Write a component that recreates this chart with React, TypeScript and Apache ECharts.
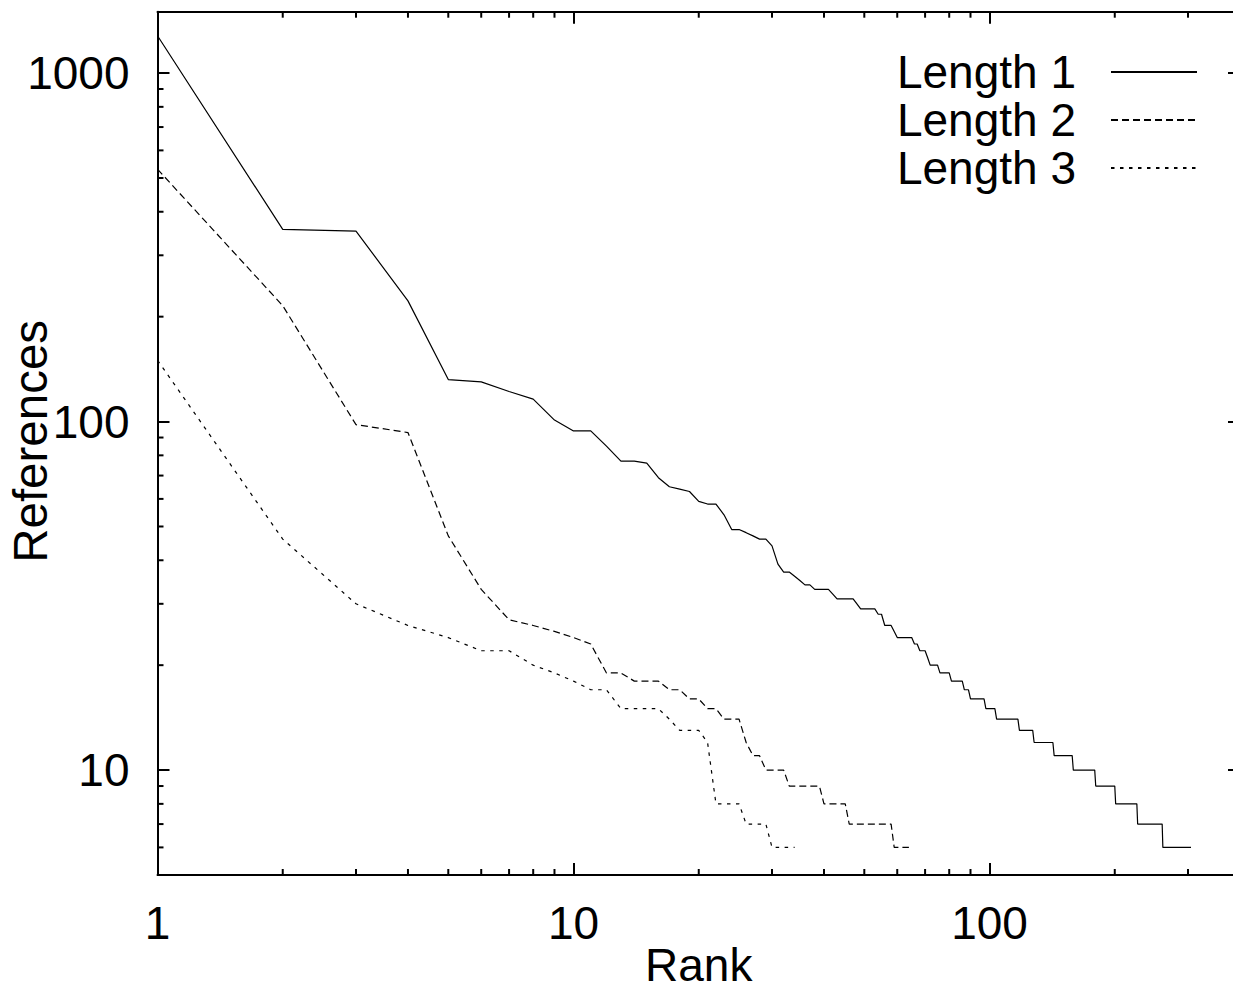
import React, { useEffect, useRef } from 'react';
import * as echarts from 'echarts';

const X_MIN = 1;
const X_MAX = 400;
const Y_MIN = 5;
const Y_MAX = 1500;

const xTickLabels = ['1', '10', '100'];
const yTickLabels = ['10', '100', '1000'];
const xMinorTicks = [2, 3, 4, 5, 6, 7, 8, 9, 20, 30, 40, 50, 60, 70, 80, 90, 200, 300];
const yMinorTicks = [6, 7, 8, 9, 20, 30, 40, 50, 60, 70, 80, 90, 200, 300, 400, 500, 600, 700, 800, 900];

const seriesNames = ['Length 1', 'Length 2', 'Length 3'];

const length1: [number, number][] = [
  [1, 1280], [2, 356], [3, 352], [4, 222], [5, 132], [6, 130], [7, 122], [8, 116], [9, 101], [10, 94],
  [11, 94], [12, 85], [13, 77], [14, 77], [15, 76], [16, 69], [17, 65], [18, 64], [19, 63], [20, 59],
  [21, 58], [22, 58], [23, 54], [24, 49], [25, 49], [26, 48], [27, 47], [28, 46], [29, 46], [30, 44],
  [31, 39], [32, 37], [33, 37], [34, 36], [35, 35], [36, 34], [37, 34], [38, 33], [41, 33], [42, 32],
  [43, 31], [47, 31], [48, 30], [49, 29], [53, 29], [54, 28], [55, 28], [56, 26], [58, 26], [59, 25],
  [60, 24], [65, 24], [66, 23], [67, 23], [68, 22], [70, 22], [71, 21], [72, 20], [75, 20], [76, 19],
  [80, 19], [81, 18], [86, 18], [87, 17], [89, 17], [90, 16], [97, 16], [98, 15], [103, 15], [104, 14],
  [117, 14], [118, 13], [127, 13], [128, 12], [142, 12], [143, 11], [158, 11], [159, 10], [179, 10], [180, 9],
  [200, 9], [201, 8], [226, 8], [227, 7], [260, 7], [261, 6], [305, 6],
];

const length2: [number, number][] = [
  [1, 530], [2, 215], [3, 98], [4, 93], [5, 47], [6, 33], [7, 27], [8, 26], [9, 25], [10, 24],
  [11, 23], [12, 19], [13, 19], [14, 18], [16, 18], [17, 17], [18, 17], [19, 16], [20, 16], [21, 15],
  [22, 15], [23, 14], [25, 14], [26, 12], [27, 11], [28, 11], [29, 10], [32, 10], [33, 9], [39, 9],
  [40, 8], [45, 8], [46, 7], [58, 7], [59, 6], [64, 6],
];

const length3: [number, number][] = [
  [1, 150], [2, 46], [3, 30], [4, 26], [5, 24], [6, 22], [7, 22], [8, 20], [9, 19], [10, 18],
  [11, 17], [12, 17], [13, 15], [16, 15], [17, 14], [18, 13], [20, 13], [21, 12], [22, 8], [25, 8],
  [26, 7], [29, 7], [30, 6], [34, 6],
];

const FONT = '"Liberation Sans", Arial, Helvetica, sans-serif';

function makeFormatter(labels: string[]) {
  return (v: number) => {
    const r = Math.round(v);
    const s = String(r);
    return labels.includes(s) && Math.abs(v - r) / Math.max(1, Math.abs(v)) < 1e-6 ? s : '';
  };
}

const axisLineStyle = { color: '#000', width: 2 };

function buildOption(): any {
  const baseAxis = {
    type: 'log',
    logBase: 10,
    axisLine: { show: true, onZero: false, lineStyle: axisLineStyle },
    axisTick: { show: true, inside: true, length: 12, lineStyle: axisLineStyle },
    splitLine: { show: false },
    minorTick: { show: false },
    minorSplitLine: { show: false },
  };
  const labelStyle = { fontSize: 46, fontFamily: FONT, color: '#000' };

  return {
    animation: false,
    backgroundColor: '#fff',
    textStyle: { fontFamily: FONT },
    grid: {
      left: 157.5,
      top: 11.7,
      right: -7,
      bottom: 116,
      containLabel: false,
      outerBoundsMode: 'none',
    },
    legend: {
      data: seriesNames,
      orient: 'vertical',
      align: 'right',
      right: 35,
      top: 49,
      padding: 0,
      itemGap: 2,
      itemWidth: 86,
      itemHeight: 14,
      selectedMode: false,
      itemStyle: { opacity: 0, borderWidth: 0 },
      textStyle: { ...labelStyle, lineHeight: 46, padding: [0, 30, 0, 0] },
    },
    xAxis: [
      {
        ...baseAxis,
        position: 'bottom',
        min: X_MIN,
        max: X_MAX,
        name: 'Rank',
        nameLocation: 'middle',
        nameGap: 67,
        nameMoveOverlap: false,
        nameTextStyle: labelStyle,
        axisLabel: { ...labelStyle, margin: 25, formatter: makeFormatter(xTickLabels) },
      },
      {
        ...baseAxis,
        position: 'top',
        min: X_MIN,
        max: X_MAX,
        axisLabel: { show: false },
      },
    ],
    yAxis: [
      {
        ...baseAxis,
        position: 'left',
        min: Y_MIN,
        max: Y_MAX,
        name: 'References',
        nameLocation: 'middle',
        nameRotate: 90,
        nameGap: 103,
        nameMoveOverlap: false,
        nameTextStyle: { ...labelStyle, fontSize: 47.5, padding: [0, 0, 0, 4] },
        axisLabel: { ...labelStyle, margin: 28, formatter: makeFormatter(yTickLabels) },
      },
      {
        ...baseAxis,
        position: 'right',
        min: Y_MIN,
        max: Y_MAX,
        axisLabel: { show: false },
      },
    ],
    series: [
      {
        name: seriesNames[0],
        type: 'line',
        data: length1,
        symbol: 'none',
        showSymbol: false,
        lineStyle: { color: '#000', width: 1.2, type: 'solid' },
        itemStyle: { color: '#000' },
        z: 3,
      },
      {
        name: seriesNames[1],
        type: 'line',
        data: length2,
        symbol: 'none',
        showSymbol: false,
        lineStyle: { color: '#000', width: 1.2, type: [7, 4] },
        itemStyle: { color: '#000' },
        z: 3,
      },
      {
        name: seriesNames[2],
        type: 'line',
        data: length3,
        symbol: 'none',
        showSymbol: false,
        lineStyle: { color: '#000', width: 1.2, type: [3.5, 5.5] },
        itemStyle: { color: '#000' },
        z: 3,
      },
      {
        type: 'custom',
        name: 'xMinor',
        silent: true,
        data: xMinorTicks.map((v) => [v, Y_MIN]),
        renderItem: (_p: any, api: any) => {
          const v = api.value(0);
          const b = api.coord([v, Y_MIN]);
          const t = api.coord([v, Y_MAX]);
          const st = { stroke: '#000', lineWidth: 2 };
          return {
            type: 'group',
            children: [
              { type: 'line', shape: { x1: b[0], y1: b[1], x2: b[0], y2: b[1] - 6 }, style: st },
              { type: 'line', shape: { x1: t[0], y1: t[1], x2: t[0], y2: t[1] + 6 }, style: st },
            ],
          };
        },
      },
      {
        type: 'custom',
        name: 'yMinor',
        silent: true,
        data: yMinorTicks.map((v) => [X_MIN, v]),
        renderItem: (_p: any, api: any) => {
          const v = api.value(1);
          const l = api.coord([X_MIN, v]);
          const r = api.coord([X_MAX, v]);
          const st = { stroke: '#000', lineWidth: 2 };
          return {
            type: 'group',
            children: [
              { type: 'line', shape: { x1: l[0], y1: l[1], x2: l[0] + 6, y2: l[1] }, style: st },
              { type: 'line', shape: { x1: r[0], y1: r[1], x2: r[0] - 6, y2: r[1] }, style: st },
            ],
          };
        },
      },
    ],
  };
}

export default function App() {
  const ref = useRef<HTMLDivElement>(null);
  useEffect(() => {
    if (!ref.current) return;
    const chart = echarts.init(ref.current, null, { renderer: 'svg' });
    chart.setOption(buildOption());
    return () => chart.dispose();
  }, []);
  return (
    <div
      ref={ref}
      style={{ position: 'fixed', left: 0, top: 0, width: 1233, height: 991, background: '#fff' }}
    />
  );
}
